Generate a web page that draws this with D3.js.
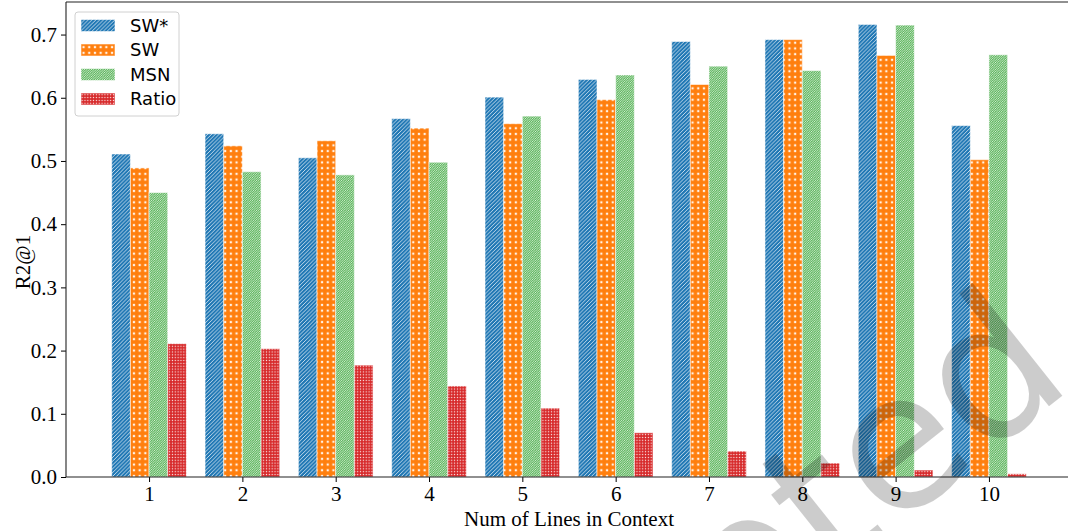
<!DOCTYPE html>
<html>
<head>
<meta charset="utf-8">
<script src="https://cdn.jsdelivr.net/npm/d3@7"></script>
<style>
  body { margin: 0; background: #fff; }
  svg { display: block; }
</style>
</head>
<body>
<div id="chart"></div>
<script>
// values
var categories = [1, 2, 3, 4, 5, 6, 7, 8, 9, 10];
var seriesNames = ["SW*", "SW", "MSN", "Ratio"];
var swStar = [0.511, 0.543, 0.505, 0.567, 0.601, 0.629, 0.689, 0.692, 0.716, 0.556];
var sw     = [0.489, 0.524, 0.532, 0.552, 0.559, 0.597, 0.621, 0.692, 0.667, 0.502];
var msn    = [0.450, 0.483, 0.478, 0.498, 0.571, 0.636, 0.650, 0.643, 0.715, 0.668];
var ratio  = [0.211, 0.203, 0.177, 0.144, 0.109, 0.070, 0.041, 0.022, 0.011, 0.005];
var yTicks = [0.0, 0.1, 0.2, 0.3, 0.4, 0.5, 0.6, 0.7];

var width = 1068, height = 531;
var margin = {top: 2, left: 66, bottom: 54};
var serif = "'Liberation Serif', 'Times New Roman', serif";

var svg = d3.select("#chart").append("svg")
    .attr("width", width)
    .attr("height", height);

// x axis runs past the right edge of the picture (the figure was cropped)
var x = d3.scaleLinear()
    .domain([0.11, 10.89])
    .range([margin.left, 1072]);

var y = d3.scaleLinear()
    .domain([0, 0.7515])
    .range([height - margin.bottom, margin.top]);

var colors = ["#1f77b4", "#ff7f0e", "#2ca02c", "#d62728"];
var values = [swStar, sw, msn, ratio];
var barW = 0.2;

// hatch patterns
var defs = svg.append("defs");

function stripes(id, color, p, lw) {
    var pat = defs.append("pattern")
        .attr("id", id)
        .attr("patternUnits", "userSpaceOnUse")
        .attr("width", p)
        .attr("height", p);
    pat.append("rect").attr("width", p).attr("height", p).attr("fill", color);
    [[-1, 1, 1, -1], [0, p, p, 0], [p - 1, p + 1, p + 1, p - 1]].forEach(function (l) {
        pat.append("line")
            .attr("x1", l[0]).attr("y1", l[1])
            .attr("x2", l[2]).attr("y2", l[3])
            .attr("stroke", "#fff")
            .attr("stroke-opacity", 0.9)
            .attr("stroke-width", lw);
    });
}

function dots(id, color, p, r) {
    var pat = defs.append("pattern")
        .attr("id", id)
        .attr("patternUnits", "userSpaceOnUse")
        .attr("width", p)
        .attr("height", p);
    pat.append("rect").attr("width", p).attr("height", p).attr("fill", color);
    pat.append("rect")
        .attr("x", p / 2 - r).attr("y", p / 2 - r)
        .attr("width", 2 * r).attr("height", 2 * r)
        .attr("fill", "#fff")
        .attr("fill-opacity", 0.9);
}

stripes("hatch0", colors[0], 3.8, 0.8);
dots("hatch1", colors[1], 5.7, 1.1);
stripes("hatch2", colors[2], 2.3, 0.8);
dots("hatch3", colors[3], 2.85, 0.6);

// bars
var bars = svg.append("g");
values.forEach(function (vals, s) {
    bars.selectAll(".bar" + s)
        .data(vals)
        .enter().append("rect")
        .attr("class", "bar" + s)
        .attr("x", function (d, i) { return x(categories[i] + (s - 2) * barW); })
        .attr("width", x(barW) - x(0))
        .attr("y", function (d) { return y(d); })
        .attr("height", function (d) { return y(0) - y(d); })
        .attr("fill", "url(#hatch" + s + ")")
        .attr("stroke", "#fff")
        .attr("stroke-opacity", 0.55)
        .attr("stroke-width", 1);
});

// axes
var xAxis = d3.axisBottom(x)
    .tickValues(categories)
    .tickFormat(d3.format("d"))
    .tickSize(5)
    .tickPadding(4);

var yAxis = d3.axisLeft(y)
    .tickValues(yTicks)
    .tickFormat(d3.format(".1f"))
    .tickSize(5)
    .tickPadding(4);

var gx = svg.append("g")
    .attr("transform", "translate(0," + y(0) + ")")
    .call(xAxis);
var gy = svg.append("g")
    .attr("transform", "translate(" + margin.left + ",0)")
    .call(yAxis);

[gx, gy].forEach(function (g) {
    g.attr("font-family", null).attr("font-size", null);
    g.select(".domain").remove();
    g.selectAll(".tick line").attr("stroke", "#000").attr("stroke-width", 1);
    g.selectAll(".tick text")
        .attr("fill", "#000")
        .style("font-family", serif)
        .style("font-size", "21px");
});

// spines
var spines = svg.append("g")
    .attr("fill", "none")
    .attr("stroke", "#222")
    .attr("stroke-width", 1.1);
spines.append("line")
    .attr("x1", x.range()[0]).attr("x2", x.range()[1])
    .attr("y1", y(0)).attr("y2", y(0));
spines.append("line")
    .attr("x1", x.range()[0]).attr("x2", x.range()[1])
    .attr("y1", y.range()[1]).attr("y2", y.range()[1]);
spines.append("line")
    .attr("x1", x.range()[0]).attr("x2", x.range()[0])
    .attr("y1", y(0)).attr("y2", y.range()[1]);

// axis titles
svg.append("text")
    .attr("x", (x.range()[0] + x.range()[1]) / 2)
    .attr("y", 526)
    .attr("text-anchor", "middle")
    .style("font-family", serif)
    .style("font-size", "21px")
    .text("Num of Lines in Context");

svg.append("text")
    .attr("transform", "translate(30,262) rotate(-90)")
    .attr("text-anchor", "middle")
    .style("font-family", serif)
    .style("font-size", "21px")
    .text("R2@1");

// legend
var legend = svg.append("g").attr("transform", "translate(75,12)");
legend.append("rect")
    .attr("width", 104)
    .attr("height", 104)
    .attr("rx", 3)
    .attr("fill", "#fff")
    .attr("fill-opacity", 0.8)
    .attr("stroke", "#d0d0d0")
    .attr("stroke-width", 1);

var rows = legend.selectAll(".row")
    .data(seriesNames)
    .enter().append("g")
    .attr("class", "row")
    .attr("transform", function (d, i) { return "translate(0," + (13.5 + i * 24.5) + ")"; });

rows.append("rect")
    .attr("x", 6)
    .attr("y", -6)
    .attr("width", 34)
    .attr("height", 12)
    .attr("fill", function (d, i) { return "url(#hatch" + i + ")"; })
    .attr("stroke", "#fff")
    .attr("stroke-opacity", 0.55);

rows.append("text")
    .attr("x", 55)
    .attr("dy", "0.35em")
    .style("font-family", "'DejaVu Sans', sans-serif")
    .style("font-size", "18px")
    .text(function (d) { return d; });

// watermark
svg.append("text")
    .attr("transform", "translate(1076,385) rotate(-38.5)")
    .attr("text-anchor", "end")
    .attr("fill", "#000")
    .attr("fill-opacity", 0.2)
    .style("font-family", "'DejaVu Sans', sans-serif")
    .style("font-size", "190px")
    .text("Accepted");
</script>
</body>
</html>
